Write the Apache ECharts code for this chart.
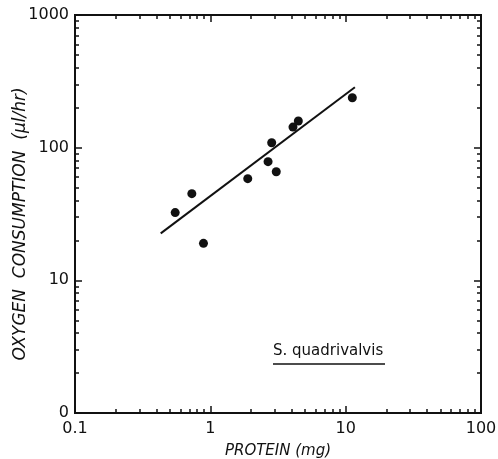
<!DOCTYPE html>
<html>
<head>
<meta charset="utf-8">
<script src="https://cdn.jsdelivr.net/npm/echarts@6/dist/echarts.min.js"></script>
<style>html,body{margin:0;padding:0;background:#fff}#c{width:498px;height:459px}</style>
</head>
<body>
<div id="c"></div>
<script>
// Data
const protein = [0.55, 0.73, 0.89, 1.89, 2.67, 2.84, 3.07, 4.08, 4.47, 11.2];
const oxygen  = [32.4, 45.0, 19.0, 58.4, 78.4, 109, 65.9, 143, 159, 238];
const fitX = [0.43, 11.7];
const fitY = [22.6, 285];
const xTicks = [0.1, 1, 10, 100];
const yTicks = [1, 10, 100, 1000];
const yTickLabels = ['0', '10', '100', '1000'];
const xTitle = 'PROTEIN (mg)';
const yTitle = 'OXYGEN  CONSUMPTION  (µl/hr)';
const speciesLabel = 'S. quadrivalvis';

function minors(lo, hi) {
  const out = [];
  for (let d = lo; d < hi; d *= 10) for (let k = 2; k <= 9; k++) out.push(+(d * k).toPrecision(6));
  return out;
}
const xMinor = minors(0.1, 100);
const yMinor = minors(1, 1000);

const font = 'DejaVu Sans, sans-serif';
const black = '#111';

function xAxisDef(pos, showLabel, vals, len, extra) {
  return Object.assign({
    type: 'log', logBase: 10, min: 0.1, max: 100, position: pos,
    axisLine: { show: true, onZero: false, lineStyle: { color: black, width: 2 } },
    axisTick: { show: true, inside: true, length: len, customValues: vals, lineStyle: { color: black, width: 1.5 } },
    axisLabel: { show: showLabel, customValues: xTicks, color: black, fontFamily: font, fontSize: 16, margin: 8,
      formatter: v => String(+(+v).toPrecision(3)) },
    splitLine: { show: false }
  }, extra || {});
}
function yAxisDef(pos, showLabel, vals, len, extra) {
  return Object.assign({
    type: 'log', logBase: 10, min: 1, max: 1000, position: pos,
    axisLine: { show: true, onZero: false, lineStyle: { color: black, width: 2 } },
    axisTick: { show: true, inside: true, length: len, customValues: vals, lineStyle: { color: black, width: 1.5 } },
    axisLabel: { show: showLabel, customValues: yTicks, color: black, fontFamily: font, fontSize: 16, margin: 6,
      formatter: v => yTickLabels[yTicks.findIndex(t => Math.abs(t - v) / t < 1e-6)] },
    splitLine: { show: false }
  }, extra || {});
}

const chart = echarts.init(document.getElementById('c'));
chart.setOption({
  backgroundColor: '#fff',
  animation: false,
  grid: { left: 75, top: 15, right: 17, bottom: 46, containLabel: false, outerBoundsMode: 'none' },
  xAxis: [
    xAxisDef('bottom', true, xTicks, 7, {
      name: xTitle, nameLocation: 'middle', nameGap: 31, nameMoveOverlap: false,
      nameTextStyle: { color: black, fontFamily: font, fontSize: 15, fontStyle: 'italic' }
    }),
    xAxisDef('bottom', false, xMinor, 4),
    xAxisDef('top', false, xTicks, 7),
    xAxisDef('top', false, xMinor, 4)
  ],
  yAxis: [
    yAxisDef('left', true, yTicks, 7, {
      name: yTitle, nameLocation: 'middle', nameGap: 46, nameRotate: 90, nameMoveOverlap: false,
      nameTextStyle: { color: black, fontFamily: font, fontSize: 17, fontStyle: 'italic', padding: [0, 20, 0, 0] }
    }),
    yAxisDef('left', false, yMinor, 4),
    yAxisDef('right', false, yTicks, 7),
    yAxisDef('right', false, yMinor, 4)
  ],
  series: [
    {
      type: 'line', xAxisIndex: 0, yAxisIndex: 0,
      data: fitX.map((x, i) => [x, fitY[i]]),
      symbol: 'none', lineStyle: { color: black, width: 2 }, z: 3
    },
    {
      type: 'scatter', xAxisIndex: 0, yAxisIndex: 0,
      data: protein.map((x, i) => [x, oxygen[i]]),
      symbol: 'circle', symbolSize: 9, itemStyle: { color: black, opacity: 1 }, z: 4
    }
  ],
  graphic: [
    { type: 'text', left: 273, top: 344,
      style: { text: speciesLabel, fill: black, font: '15px ' + font } },
    { type: 'line', shape: { x1: 273, y1: 364, x2: 385, y2: 364 }, style: { stroke: black, lineWidth: 1.5 } }
  ]
});
</script>
</body>
</html>
